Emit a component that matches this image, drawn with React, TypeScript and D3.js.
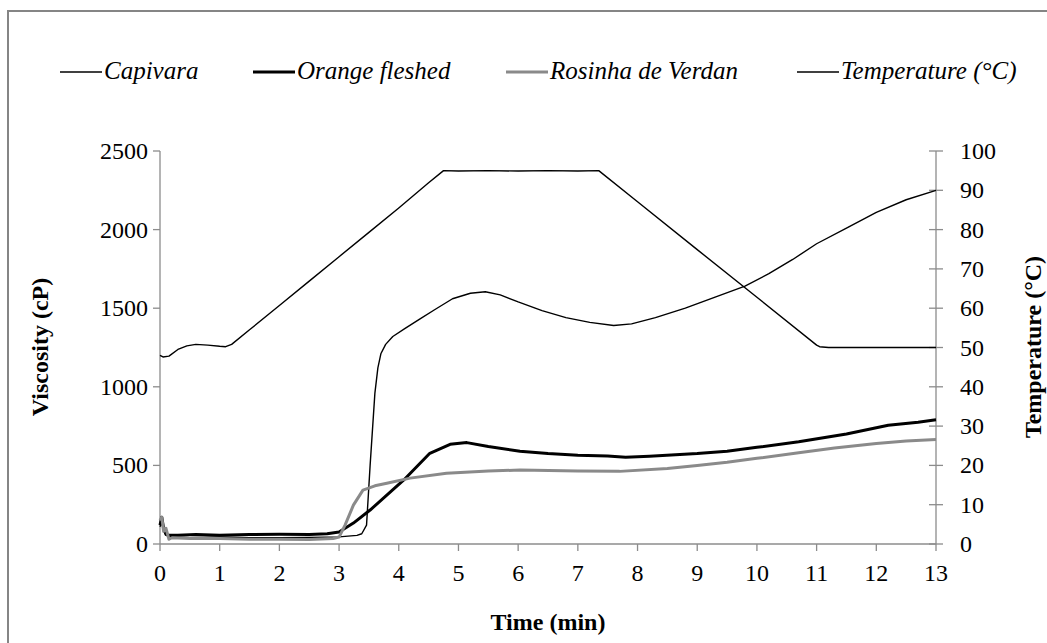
import * as d3 from "d3";

// time (min) / value pairs
const capT = [0, 0.03, 0.06, 0.1, 0.2, 0.5, 1, 1.5, 2, 2.5, 3, 3.3, 3.38, 3.46, 3.52, 3.6, 3.65, 3.7, 3.78, 3.9, 4.1, 4.35, 4.6, 4.9, 5.2, 5.45, 5.7, 6.0, 6.4, 6.8, 7.2, 7.6, 7.9, 8.3, 8.8, 9.3, 9.8, 10.2, 10.6, 11, 11.5, 12, 12.5, 13];
const capV = [110, 140, 90, 60, 45, 40, 45, 40, 40, 42, 45, 55, 65, 120, 500, 960, 1120, 1210, 1270, 1320, 1370, 1430, 1490, 1560, 1595, 1605, 1585, 1540, 1485, 1440, 1410, 1390, 1400, 1440, 1500, 1570, 1640, 1720, 1810, 1910, 2010, 2110, 2190, 2250];

const orT = [0, 0.03, 0.06, 0.1, 0.15, 0.3, 0.6, 1, 1.5, 2, 2.5, 2.8, 3.0, 3.24, 3.52, 4.08, 4.52, 4.86, 5.14, 5.5, 6.03, 6.5, 7, 7.5, 7.8, 8.2, 9, 9.5, 10, 10.7, 11.5, 12.2, 12.7, 13];
const orV = [120, 170, 100, 60, 55, 55, 60, 55, 60, 62, 60, 65, 76, 133, 216, 406, 577, 634, 645, 620, 590, 575, 565, 560, 552, 558, 575, 590, 615, 650, 700, 755, 775, 790];

const roT = [0, 0.03, 0.06, 0.1, 0.15, 0.2, 0.5, 1, 1.5, 2, 2.5, 2.9, 3.0, 3.1, 3.24, 3.4, 3.6, 3.8, 4.19, 4.8, 5.5, 6.03, 7, 7.7, 8.5, 9, 9.5, 10, 10.7, 11.3, 12, 12.5, 13];
const roV = [150, 170, 80, 100, 30, 40, 35, 35, 30, 30, 28, 35, 44, 120, 247, 343, 370, 387, 419, 450, 465, 470, 465, 462, 480, 500, 520, 545, 580, 610, 640, 655, 665];

const tempT = [0, 0.05, 0.15, 0.3, 0.45, 0.6, 0.8, 1.0, 1.1, 1.2, 1.5, 2.0, 2.5, 3.0, 3.5, 4.0, 4.5, 4.75, 5.0, 5.5, 6.0, 6.5, 7.0, 7.35, 8, 9, 10, 11, 11.05, 11.2, 12, 13];
const tempV = [48, 47.6, 47.8, 49.5, 50.4, 50.8, 50.6, 50.3, 50.2, 50.8, 54.5, 60.7, 66.9, 73.1, 79.3, 85.5, 91.9, 95, 94.9, 95, 94.9, 95, 94.9, 95, 87.1, 74.9, 62.8, 50.6, 50.2, 50, 50, 50];

const xTicks = d3.range(0, 14);
const leftTicks = [0, 500, 1000, 1500, 2000, 2500];
const rightTicks = d3.range(0, 101, 10);

const legendNames = ["Capivara", "Orange fleshed", "Rosinha de Verdan", "Temperature (°C)"];
const legendColors = ["#000", "#000", "#8a8a8a", "#000"];
const legendWidths = [1.4, 3, 3, 1.4];
const legendX = [60, 253, 506, 797];

const axisColor = "#8c8c8c";
const font = "Liberation Serif, Times New Roman, DejaVu Serif, serif";

export default function App() {
  const W = 1047;
  const H = 643;
  const x = d3.scaleLinear().domain([0, 13]).range([160, 936]);
  const yL = d3.scaleLinear().domain([0, 2500]).range([544, 151]);
  const yR = d3.scaleLinear().domain([0, 100]).range([544, 151]);

  const lineL = (ts: number[], vs: number[]) =>
    d3.line<number>().x((_, i) => x(ts[i])).y(v => yL(v))(vs) ?? "";
  const lineR = (ts: number[], vs: number[]) =>
    d3.line<number>().x((_, i) => x(ts[i])).y(v => yR(v))(vs) ?? "";

  const series = [
    { d: lineL(capT, capV), c: "#000", w: 1.4 },
    { d: lineL(orT, orV), c: "#000", w: 3 },
    { d: lineL(roT, roV), c: "#8a8a8a", w: 3 },
    { d: lineR(tempT, tempV), c: "#000", w: 1.4 },
  ];

  return (
    <div style={{ position: "absolute", left: 0, top: 0 }}>
      <svg width={W} height={H} style={{ display: "block", background: "#fff", fontFamily: font }}>
        <rect x={8} y={11} width={1200} height={800} fill="none" stroke="#858585" strokeWidth={2} />

        {/* legend */}
        {legendNames.map((name, i) => (
          <g key={name}>
            <line x1={legendX[i]} x2={legendX[i] + 42} y1={72} y2={72} stroke={legendColors[i]} strokeWidth={legendWidths[i]} />
            <text x={legendX[i] + 44} y={79} fontSize={25} fontStyle="italic">{name}</text>
          </g>
        ))}

        {/* axes */}
        <line x1={160} x2={160} y1={151} y2={544} stroke={axisColor} strokeWidth={1.3} />
        <line x1={936} x2={936} y1={151} y2={544} stroke={axisColor} strokeWidth={1.3} />
        <line x1={160} x2={936} y1={544} y2={544} stroke={axisColor} strokeWidth={1.3} />

        {leftTicks.map(t => (
          <g key={"l" + t}>
            <line x1={153} x2={160} y1={yL(t)} y2={yL(t)} stroke={axisColor} strokeWidth={1.3} />
            <text x={148} y={yL(t) + 8} fontSize={24} textAnchor="end">{t}</text>
          </g>
        ))}
        {rightTicks.map(t => (
          <g key={"r" + t}>
            <line x1={929} x2={943} y1={yR(t)} y2={yR(t)} stroke={axisColor} strokeWidth={1.3} />
            <text x={960} y={yR(t) + 8} fontSize={24}>{t}</text>
          </g>
        ))}
        {xTicks.map(t => (
          <g key={"x" + t}>
            <line x1={x(t)} x2={x(t)} y1={544} y2={551} stroke={axisColor} strokeWidth={1.3} />
            <text x={x(t)} y={581} fontSize={24} textAnchor="middle">{t}</text>
          </g>
        ))}

        {/* series */}
        {series.map((s, i) => (
          <path key={i} d={s.d} fill="none" stroke={s.c} strokeWidth={s.w} strokeLinejoin="round" />
        ))}

        {/* axis titles */}
        <text x={548} y={630} fontSize={24} fontWeight="bold" textAnchor="middle">Time (min)</text>
        <text transform="translate(48,347) rotate(-90)" fontSize={24} fontWeight="bold" textAnchor="middle">Viscosity (cP)</text>
        <text transform="translate(1041,347) rotate(-90)" fontSize={24} fontWeight="bold" textAnchor="middle">Temperature (°C)</text>
      </svg>
    </div>
  );
}
